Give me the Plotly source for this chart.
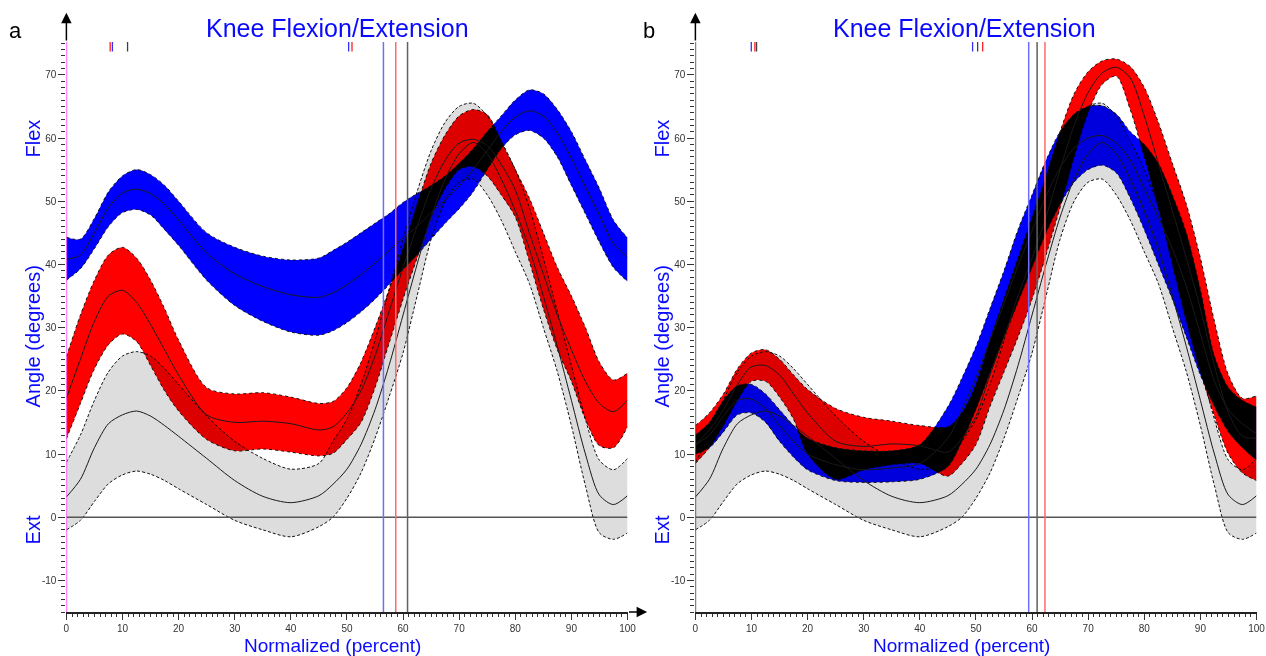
import plotly.graph_objects as go

# ---------------- data ----------------
X = [0, 2.5, 5, 7.5, 10, 12.5, 15, 17.5, 20, 25, 30, 35, 40, 45, 47.5, 50, 52.5, 55, 57.5, 60,
     62.5, 65, 67.5, 70, 72.5, 75, 77.5, 80, 82.5, 85, 87.5, 90, 92.5, 95, 97.5, 100]

# normative (grey) band, same in both panels
GREY_MEAN = [3.2, 6.0, 11.0, 14.8, 16.2, 16.8, 16.0, 14.5, 12.8, 9.3, 5.8, 3.3, 2.3, 3.4, 5.2, 7.6,
             11.5, 17.0, 24.0, 32.0, 40.0, 47.5, 53.5, 57.5, 59.3, 57.5, 53.5, 48.5, 42.5, 35.0,
             27.0, 18.5, 10.0, 3.5, 2.0, 3.4]
GREY_UP = [8.7, 13.0, 18.5, 23.0, 25.5, 26.2, 25.5, 23.5, 21.0, 16.0, 12.0, 9.3, 7.6, 8.5, 12.0, 15.5,
           21.0, 28.0, 36.0, 44.0, 51.5, 58.0, 62.5, 65.0, 65.5, 63.5, 59.5, 55.0, 49.0, 41.0,
           32.5, 24.0, 15.5, 9.0, 7.5, 9.3]
GREY_LO = [-2.0, -0.5, 2.5, 5.3, 6.7, 7.3, 6.8, 5.8, 4.5, 2.0, -0.5, -2.0, -3.1, -1.5, 0.0, 3.0,
           7.0, 12.5, 19.0, 26.0, 35.0, 44.0, 50.0, 53.0, 53.5, 51.0, 47.0, 42.0, 37.0, 30.0,
           23.0, 14.5, 5.0, -2.5, -3.5, -2.5]

# panel a
A_BLUE_MEAN = [40.8, 41.5, 45.0, 49.0, 51.3, 51.9, 51.2, 49.5, 47.0, 41.8, 38.5, 36.5, 35.2, 34.8, 35.5,
               36.8, 38.4, 40.2, 42.2, 44.2, 46.0, 48.2, 50.2, 52.4, 55.0, 58.0, 61.0, 63.3, 64.3,
               63.5, 60.8, 56.8, 52.3, 47.8, 43.3, 41.2]
A_BLUE_UP = [44.3, 44.0, 47.3, 51.5, 54.0, 55.0, 54.2, 52.5, 50.0, 45.0, 42.7, 41.3, 40.7, 41.0, 42.2,
             43.5, 45.0, 46.5, 48.0, 49.8, 51.2, 52.5, 54.0, 56.0, 58.3, 61.0, 63.5, 66.0, 67.6,
             67.0, 64.5, 61.0, 56.5, 52.0, 47.0, 44.2]
A_BLUE_LO = [37.5, 39.3, 42.5, 46.0, 48.2, 48.7, 47.8, 45.5, 43.0, 37.5, 33.5, 31.0, 29.3, 28.8, 29.5,
             30.8, 32.5, 34.5, 36.8, 39.2, 41.5, 44.0, 46.5, 48.8, 51.5, 55.0, 58.3, 60.5, 61.2,
             60.0, 57.0, 52.5, 48.0, 43.5, 39.5, 37.3]
A_RED_MEAN = [18.8, 25.0, 31.0, 35.0, 35.9, 34.0, 30.5, 26.5, 22.5, 16.2, 15.0, 15.2, 14.8, 13.8, 14.3,
              16.5, 20.0, 25.5, 32.5, 39.5, 46.0, 52.0, 56.5, 59.2, 59.8, 58.8, 55.8, 51.8, 45.0,
              38.5, 32.0, 26.5, 21.5, 18.0, 16.7, 18.5]
A_RED_UP = [25.4, 32.0, 37.5, 41.5, 42.7, 41.0, 37.5, 33.0, 28.0, 20.5, 19.5, 19.7, 19.0, 18.0, 18.3,
            20.5, 24.5, 30.0, 36.0, 42.5, 49.5, 56.0, 60.5, 63.5, 64.5, 63.7, 59.5, 55.0, 50.5,
            45.0, 39.5, 35.0, 30.0, 24.5, 21.7, 22.8]
A_RED_LO = [12.4, 18.0, 23.5, 27.3, 29.0, 27.8, 24.0, 20.0, 16.8, 12.3, 10.5, 10.8, 10.3, 9.7, 10.1,
            12.3, 15.0, 20.5, 27.5, 34.5, 41.0, 47.5, 52.0, 55.0, 55.5, 54.0, 51.0, 47.5, 40.5,
            33.0, 26.5, 21.5, 15.5, 11.3, 11.0, 14.3]

# panel b
B_BLUE_MEAN = [11.5, 13.0, 16.0, 18.5, 18.7, 17.2, 14.5, 12.0, 10.0, 8.3, 7.5, 7.8, 8.5, 12.5, 17.0,
               22.0, 28.0, 33.8, 39.8, 45.3, 50.8, 55.3, 58.4, 60.0, 60.4, 59.2, 56.5, 52.0, 47.5,
               42.5, 36.5, 29.0, 21.5, 17.0, 14.8, 13.2]
B_BLUE_UP = [13.0, 15.0, 18.5, 20.8, 21.0, 19.5, 17.0, 14.5, 12.5, 11.0, 10.5, 10.5, 11.5, 17.5, 22.0,
             27.0, 33.0, 39.0, 45.5, 51.0, 56.5, 61.0, 63.8, 65.0, 65.1, 63.8, 61.0, 59.0, 56.0,
             51.0, 45.0, 36.0, 25.5, 20.5, 18.5, 17.4]
B_BLUE_LO = [10.0, 11.0, 13.5, 16.2, 16.5, 15.0, 12.0, 9.5, 7.5, 5.8, 5.5, 5.6, 6.0, 8.0, 12.0,
             17.0, 22.8, 28.5, 34.0, 39.5, 45.0, 49.5, 53.0, 55.0, 55.7, 54.5, 50.5, 45.5, 40.0,
             34.5, 28.5, 22.5, 17.5, 13.5, 11.0, 9.0]
B_RED_MEAN = [11.5, 13.8, 17.0, 21.0, 23.8, 24.0, 22.5, 19.5, 16.5, 12.0, 11.2, 11.6, 11.3, 10.3, 12.5,
              16.0, 22.5, 28.5, 35.0, 41.0, 47.5, 55.0, 62.0, 67.2, 70.3, 71.2, 69.5, 63.5, 56.0,
              48.5, 41.0, 33.0, 24.0, 16.5, 12.8, 12.5]
B_RED_UP = [14.5, 16.5, 19.5, 23.5, 26.0, 26.5, 25.0, 22.5, 20.2, 17.2, 15.8, 15.2, 14.5, 14.3, 16.5,
            21.0, 28.0, 34.5, 41.0, 47.5, 54.0, 61.0, 67.0, 70.5, 72.2, 72.5, 71.3, 68.0, 62.5,
            56.0, 49.5, 41.0, 31.0, 22.5, 18.8, 19.2]
B_RED_LO = [8.5, 11.0, 14.5, 18.5, 21.5, 21.5, 19.0, 15.5, 10.0, 6.0, 7.5, 8.3, 8.5, 6.5, 8.5,
            11.5, 17.5, 23.0, 28.5, 34.5, 41.5, 49.0, 57.0, 64.0, 68.5, 69.8, 64.5, 57.0, 49.0,
            40.0, 31.0, 23.0, 16.0, 10.0, 7.0, 5.8]

# event markers (percent of cycle)
A_VLINES = {"blue": 56.5, "red": 58.7, "black": 60.8}
A_TICKS = {"red": [7.8, 50.9], "blue": [8.2, 50.3], "black": [10.9]}
B_VLINES = {"blue": 59.4, "black": 60.9, "red": 62.3}
B_TICKS = {"blue": [9.96, 49.4], "red": [10.6, 51.2], "black": [10.9, 50.3]}

X_TICKS = list(range(0, 101, 10))
X_TICK_TEXT = [str(v) for v in X_TICKS]
Y_TICKS = list(range(-10, 71, 10))
Y_TICK_TEXT = [str(v) for v in Y_TICKS]
Y_RANGE = [-15, 80]

# ---------------- styles / layout calibration ----------------
W, H = 1266, 656
PAPER_W, PAPER_OFF = 1256.0, 2.5   # empirical horizontal calibration of the rendered page


def fx(px):
    """paper fraction for a target horizontal pixel position"""
    return (px - PAPER_OFF) / PAPER_W


def fy(py):
    return 1 - py / H


BLUE_TXT = "#0a0aff"
FONT = "Liberation Sans, Arial, sans-serif"
LINE_COL = {"blue": "#6f6fff", "red": "#ff6a6a", "black": "#606060"}
TICK_COL = {"blue": "#3030ff", "red": "#ff2020", "black": "#404040"}

fig = go.Figure()


def band(xa, ya, lo, up, fill, dash):
    common = dict(x=X, xaxis=xa, yaxis=ya, mode="lines", hoverinfo="skip", showlegend=False)
    fig.add_trace(go.Scatter(y=lo, line=dict(color="#111", width=1, dash=dash, shape="spline",
                                             smoothing=0.8), **common))
    fig.add_trace(go.Scatter(y=up, fill="tonexty", fillcolor=fill,
                             line=dict(color="#111", width=1, dash=dash, shape="spline",
                                       smoothing=0.8), **common))


def mean_line(xa, ya, m):
    fig.add_trace(go.Scatter(x=X, y=m, xaxis=xa, yaxis=ya, mode="lines", hoverinfo="skip",
                             showlegend=False,
                             line=dict(color="#1a1a1a", width=1, shape="spline", smoothing=0.8)))


panels = [
    ("x", "y", A_RED_LO, A_RED_UP, A_RED_MEAN, A_BLUE_LO, A_BLUE_UP, A_BLUE_MEAN),
    ("x2", "y2", B_RED_LO, B_RED_UP, B_RED_MEAN, B_BLUE_LO, B_BLUE_UP, B_BLUE_MEAN),
]
for xa, ya, rlo, rup, rm, blo, bup, bm in panels:
    band(xa, ya, GREY_LO, GREY_UP, "#dddddd", "3px,2px")
    band(xa, ya, rlo, rup, "#ff0000", "dot")
    band(xa, ya, blo, bup, "#0000ff", "dot")
    mean_line(xa, ya, GREY_MEAN)
    mean_line(xa, ya, rm)
    mean_line(xa, ya, bm)

# ---------------- axes ----------------
ydom = [1 - 612 / H, 1 - 11.6 / H]
ax_common = dict(range=[0, 100], showgrid=False, zeroline=False, showline=True, linecolor="#222",
                 linewidth=1.5, ticks="outside", ticklen=6, tickwidth=1, tickcolor="#333",
                 tickmode="array", tickvals=X_TICKS, ticktext=X_TICK_TEXT,
                 tickfont=dict(family=FONT, size=10, color="#333"),
                 minor=dict(tickmode="array", tickvals=list(range(0, 101)), ticks="outside",
                            ticklen=3, tickcolor="#333", showgrid=False),
                 fixedrange=True)
ay_common = dict(range=Y_RANGE, showgrid=False, zeroline=False, showline=False,
                 ticks="outside", ticklen=7, tickwidth=1, tickcolor="#333",
                 tickmode="array", tickvals=Y_TICKS, ticktext=Y_TICK_TEXT,
                 tickfont=dict(family=FONT, size=10, color="#333"),
                 minor=dict(tickmode="array", tickvals=list(range(-15, 76)), ticks="outside",
                            ticklen=4, tickcolor="#333", showgrid=False),
                 fixedrange=True)

fig.update_layout(
    width=W, height=H, margin=dict(l=0, r=0, t=0, b=0),
    paper_bgcolor="white", plot_bgcolor="white", showlegend=False,
    xaxis=dict(domain=[fx(66), fx(628)], anchor="y", **ax_common),
    yaxis=dict(domain=ydom, anchor="x", **ay_common),
    xaxis2=dict(domain=[fx(696), fx(1258)], anchor="y2", **ax_common),
    yaxis2=dict(domain=ydom, anchor="x2", **ay_common),
)

shapes = []
annots = []
top_y = 75.2
for xr, yr, ycol, vlines, ticks in [("x", "y", "#ff33ff", A_VLINES, A_TICKS),
                                     ("x2", "y2", "#333333", B_VLINES, B_TICKS)]:
    # y axis line + arrow
    shapes.append(dict(type="line", xref=xr, yref=yr, x0=0, x1=0, y0=-15, y1=top_y,
                       line=dict(color=ycol, width=1.5), layer="above"))
    annots.append(dict(x=0, y=79.8, xref=xr, yref=yr, ax=0, ay=top_y, axref=xr, ayref=yr,
                       text="", showarrow=True, arrowhead=2, arrowsize=1.4, arrowwidth=1.5,
                       arrowcolor="black"))
    # zero line
    shapes.append(dict(type="line", xref=xr, yref=yr, x0=0, x1=100, y0=0, y1=0,
                       line=dict(color="#555", width=1.5), layer="above"))
    # event lines
    for c, v in vlines.items():
        shapes.append(dict(type="line", xref=xr, yref=yr, x0=v, x1=v, y0=-15, y1=top_y,
                           line=dict(color=LINE_COL[c], width=1.5), layer="above"))
    for c, vals in ticks.items():
        for v in vals:
            shapes.append(dict(type="line", xref=xr, yref=yr, x0=v, x1=v, y0=73.7, y1=top_y,
                               line=dict(color=TICK_COL[c], width=1.3), layer="above"))

# x axis arrow (panel a)
annots.append(dict(x=103.5, y=-15, xref="x", yref="y", ax=100, ay=-15, axref="x", ayref="y",
                   text="", showarrow=True, arrowhead=2, arrowsize=1.4, arrowwidth=1.5,
                   arrowcolor="black"))


def ptext(txt, px, py, size, color, angle=0):
    annots.append(dict(text=txt, x=fx(px), y=fy(py), xref="paper", yref="paper",
                       showarrow=False, textangle=angle, xanchor="center", yanchor="middle",
                       font=dict(family=FONT, size=size, color=color)))


for off, letter, lx, tcx, xcx in [(0, "a", 15, 338, 333), (630, "b", 650, 966, 963)]:
    ptext("Knee Flexion/Extension", tcx, 28, 25, BLUE_TXT)
    ptext(letter, lx, 30, 22, "black")
    ptext("Flex", 33 + off, 138, 20, BLUE_TXT, -90)
    ptext("Angle (degrees)", 33 + off, 336, 20, BLUE_TXT, -90)
    ptext("Ext", 33 + off, 530, 20, BLUE_TXT, -90)
    ptext("Normalized (percent)", xcx, 645, 19, BLUE_TXT)

fig.update_layout(shapes=shapes, annotations=annots)

post = """
document.documentElement.style.margin = '0';
document.body.style.margin = '0';
document.body.style.padding = '0';
document.body.style.overflow = 'hidden';
var gd = document.getElementById('{plot_id}');
function blendFills(){
  gd.querySelectorAll('path.js-fill').forEach(function(p){ p.style.mixBlendMode = 'multiply'; });
}
blendFills();
if (gd.on) { gd.on('plotly_afterplot', blendFills); }
"""
fig.write_html("out.html", post_script=post, config={"displayModeBar": False})
